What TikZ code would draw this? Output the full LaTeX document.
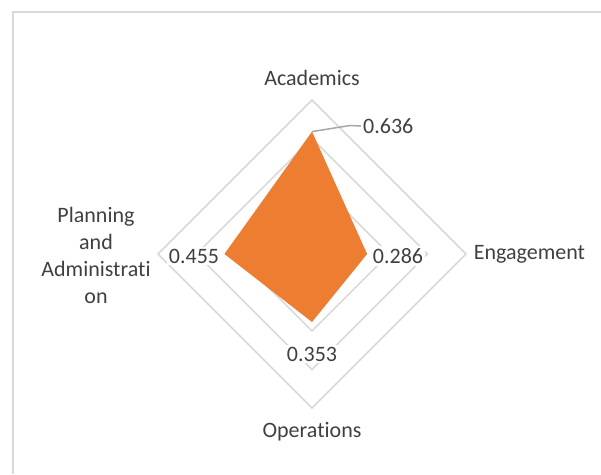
\documentclass[tikz,border=0pt]{standalone}
\usepackage{fontspec}
\setmainfont[Ligatures={NoCommon,NoContextual}]{Carlito}
\definecolor{gridgray}{HTML}{D9D9D9}
\definecolor{leadgray}{HTML}{A6A6A6}
\definecolor{seriesorange}{HTML}{ED7D31}
\definecolor{labeltext}{HTML}{404040}
\begin{document}
\begin{tikzpicture}[x=1pt,y=-1pt]
\tikzstyle{ring}=[draw=gridgray,line width=1.5pt]
\tikzstyle{axislabel}=[text=labeltext,font=\fontsize{22}{27}\selectfont,inner sep=0pt]
\tikzstyle{datalabel}=[axislabel,fill=white,inner sep=2pt]
\useasboundingbox (0,0) rectangle (601,474);
% chart frame
\draw[gridgray,line width=2pt] (13,474) -- (13,12) -- (601,12);
% grid rings, centre (312,254), 0.2 per ring
\coordinate (c) at (312,254);
\foreach \r in {38.5,77,115.5,154}
  \draw[ring] (312,254-\r) -- (312+\r,254) -- (312,254+\r) -- (312-\r,254) -- cycle;
% data points
\coordinate (pacad) at (312,131.6);
\coordinate (peng) at (367.1,254);
\coordinate (pops) at (312,322);
\coordinate (pplan) at (224.4,254);
\fill[seriesorange] (pacad) -- (peng) -- (pops) -- (pplan) -- cycle;
% category labels
\node[axislabel] at (312,78) (acad) {Academics};
\node[axislabel] at (529.5,254) (eng) {Engagement};
\node[axislabel] at (312,432) (ops) {Operations};
\node[axislabel,align=center] at (96,255) (plan) {Planning\\and\\Administrat\kern0pt i\\on};
% data labels
\node[datalabel,anchor=west] at (361,126) (vacad) {0.636};
\node[datalabel] at (398,256) (veng) {0.286};
\node[datalabel] at (312,354) (vops) {0.353};
\node[datalabel] at (194,256) (vplan) {0.455};
\coordinate (bend) at (350,125.5);
\draw[leadgray,line width=1.5pt] (pacad) -- (bend) -- (vacad.west);
\end{tikzpicture}
\end{document}
